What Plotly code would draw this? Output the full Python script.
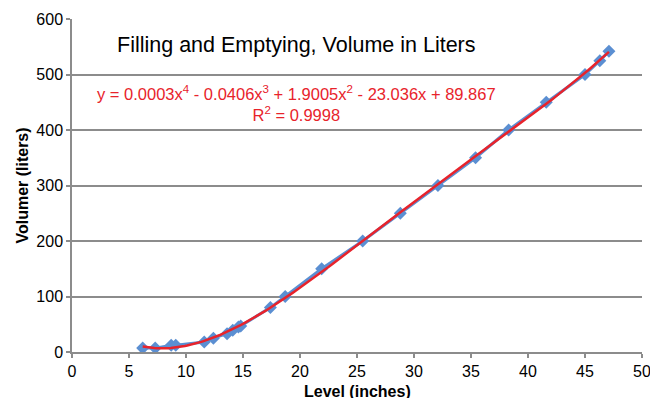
import numpy as np
import plotly.graph_objects as go

level = [6.2, 7.3, 8.7, 9.1, 11.6, 12.4, 13.6, 14.1, 14.6, 14.8, 17.4, 18.7,
         21.9, 25.5, 28.8, 32.1, 35.4, 38.3, 41.6, 45.0, 46.3, 47.1]
volume = [7, 7, 12, 12, 18, 25, 33, 39, 45, 47, 80, 100,
          150, 200, 250, 300, 350, 400, 450, 500, 525, 542]

x_ticks = [0, 5, 10, 15, 20, 25, 30, 35, 40, 45, 50]
y_ticks = [0, 100, 200, 300, 400, 500, 600]

title_text = "Filling and Emptying, Volume in Liters"
eq_text = "y = 0.0003x<sup>4</sup> - 0.0406x<sup>3</sup> + 1.9005x<sup>2</sup> - 23.036x + 89.867<br>R<sup>2</sup> = 0.9998"
x_title = "<b>Level (inches)</b>"
y_title = "<b>Volumer (liters)</b>"

coef = np.polyfit(level, volume, 4)
xf = np.linspace(min(level), max(level), 200)
yf = np.polyval(coef, xf)

fig = go.Figure()
fig.add_trace(go.Scatter(x=level, y=volume, mode="lines+markers",
                         line=dict(color="#5B8FD2", width=3),
                         marker=dict(symbol="diamond", size=10, color="#5B8FD2"),
                         showlegend=False))
fig.add_trace(go.Scatter(x=xf, y=yf, mode="lines",
                         line=dict(color="#E8232B", width=2.5),
                         showlegend=False))

font = "Liberation Sans, Arial, sans-serif"
fig.update_layout(
    width=650, height=398,
    margin=dict(l=72, r=8, t=19, b=46, autoexpand=False),
    paper_bgcolor="white", plot_bgcolor="white",
    font=dict(family=font, size=16, color="#000000"),
    xaxis=dict(range=[0, 50], tickvals=x_ticks, showgrid=False, automargin=False,
               showline=True, linecolor="#8C8C8C", linewidth=1.5,
               ticks="outside", ticklen=4, tickcolor="#8C8C8C", tickwidth=1.5,
               tickfont=dict(size=16), zeroline=False, ticklabeloverflow="allow"),
    yaxis=dict(range=[0, 600], tickvals=y_ticks, showgrid=True, automargin=False,
               gridcolor="#8C8C8C", gridwidth=1.5,
               showline=True, linecolor="#8C8C8C", linewidth=1.5,
               ticks="outside", ticklen=4, tickcolor="#8C8C8C", tickwidth=1.5,
               tickfont=dict(size=16), zeroline=False,
               title=dict(text=y_title, font=dict(size=16), standoff=4)),
    annotations=[
        dict(x=0.393, y=0.922, xref="paper", yref="paper", text=title_text,
             showarrow=False, font=dict(size=21.5, color="#000000"), xanchor="center", yanchor="middle"),
        dict(x=0.393, y=0.746, xref="paper", yref="paper", text=eq_text,
             showarrow=False, font=dict(size=16.5, color="#E8232B"), xanchor="center", yanchor="middle",
             align="center"),
        dict(x=0.5, y=0, xref="paper", yref="paper", text=x_title,
             showarrow=False, font=dict(size=16, color="#000000"), xanchor="center", yanchor="top",
             yshift=-29),
    ],
)

fig.write_html("out.html", config={"displayModeBar": False},
               post_script="document.body.style.margin='0';")
